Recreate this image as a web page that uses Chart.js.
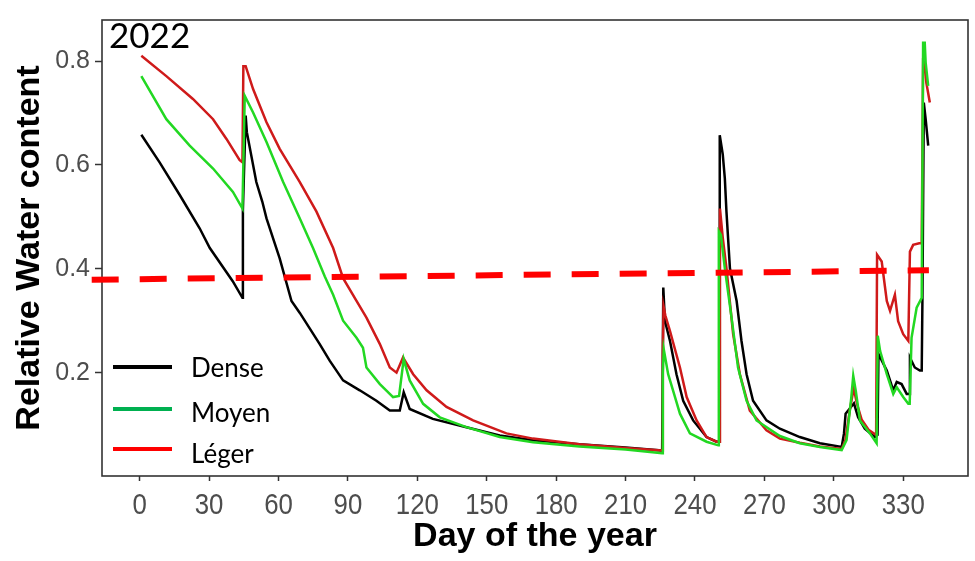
<!DOCTYPE html>
<html>
<head>
<meta charset="utf-8">
<script src="https://cdn.jsdelivr.net/npm/chart.js@4.4.1/dist/chart.umd.min.js"></script>
<style>
  html, body { margin: 0; padding: 0; background: #ffffff; }
  canvas { display: block; }
</style>
</head>
<body>
<canvas id="rwc" width="975" height="561"></canvas>
<script>
// Relative water content per day of year, 2022, for three canopy densities.
const denseDays = [0.7, 8.6, 17.3, 25.9, 30.3, 40.2, 44.4, 44.6, 45.8, 46.3, 50.4, 53, 54.8, 60.5, 65.6, 69.2, 77.8, 82.1, 87.9, 95.1, 102.3, 108.1, 112.4, 114.1, 116.7, 126.7, 141.2, 155.6, 170, 190, 210, 225.8, 226.3, 227, 229.2, 232, 234.9, 239.2, 245, 249.3, 250.4, 250.7, 252, 252.9, 253.6, 255.1, 258, 260.1, 262.3, 265.1, 270.9, 276.7, 285.3, 294, 303.4, 304.4, 305.1, 308.7, 310.5, 313.4, 317.8, 318.9, 319.3, 322.9, 325.7, 327.2, 329.3, 331.5, 332.6, 332.9, 335, 337.2, 338, 338.3, 338.9, 339.7, 340.8];
const denseRwc = [0.658, 0.605, 0.542, 0.478, 0.44, 0.376, 0.344, 0.513, 0.695, 0.663, 0.567, 0.529, 0.497, 0.42, 0.338, 0.315, 0.255, 0.223, 0.185, 0.166, 0.146, 0.127, 0.127, 0.162, 0.13, 0.111, 0.095, 0.079, 0.07, 0.062, 0.056, 0.05, 0.364, 0.3, 0.261, 0.197, 0.146, 0.108, 0.076, 0.067, 0.067, 0.657, 0.62, 0.574, 0.51, 0.401, 0.338, 0.261, 0.197, 0.146, 0.108, 0.092, 0.076, 0.064, 0.057, 0.083, 0.121, 0.141, 0.114, 0.092, 0.076, 0.08, 0.236, 0.204, 0.166, 0.182, 0.178, 0.159, 0.159, 0.229, 0.21, 0.204, 0.204, 0.338, 0.72, 0.688, 0.637];

const moyenDays = [0.7, 11.5, 21.6, 31.7, 40.3, 44.4, 45.4, 49, 54.8, 62, 69.2, 74.9, 80, 83.6, 87.9, 93.7, 96.5, 98, 103.8, 109.5, 112.1, 114.1, 116.7, 122.5, 129.7, 141.2, 155.6, 170, 190, 210, 225.8, 226.1, 226.5, 228.4, 230.5, 233.5, 237.8, 245, 250.1, 250.3, 251.2, 252.9, 255.8, 258.6, 262.3, 266.6, 276.7, 285.3, 294, 303.4, 305.5, 307.5, 308.4, 309.5, 311.3, 315.6, 318.5, 319, 320, 322.9, 325.7, 327.2, 330, 332.2, 332.8, 333.6, 335.8, 338, 338.6, 339.3, 339.7, 340.8];
const moyenRwc = [0.771, 0.688, 0.637, 0.593, 0.548, 0.516, 0.733, 0.701, 0.644, 0.567, 0.497, 0.44, 0.385, 0.35, 0.3, 0.267, 0.248, 0.21, 0.178, 0.153, 0.155, 0.226, 0.185, 0.14, 0.114, 0.095, 0.076, 0.066, 0.058, 0.052, 0.045, 0.2, 0.245, 0.197, 0.166, 0.121, 0.083, 0.067, 0.06, 0.472, 0.465, 0.401, 0.306, 0.21, 0.146, 0.108, 0.078, 0.064, 0.057, 0.051, 0.07, 0.15, 0.194, 0.165, 0.108, 0.083, 0.064, 0.271, 0.242, 0.197, 0.159, 0.172, 0.153, 0.14, 0.14, 0.267, 0.325, 0.344, 0.835, 0.835, 0.797, 0.752];

const legerDays = [0.7, 11.5, 23, 31.7, 37.5, 43.2, 44.4, 44.8, 45.8, 49, 54.8, 60.5, 69.2, 76.4, 83.6, 87.9, 93.7, 98, 103.8, 108.1, 111, 113.8, 118.2, 124, 132.6, 144.1, 158.5, 170, 190, 210, 225.8, 226.1, 226.4, 227.2, 229.2, 233.5, 236.4, 240.7, 245, 249.3, 250.5, 250.8, 252, 253.6, 256.5, 259.4, 263.7, 270.9, 276.7, 285.3, 294, 303.4, 305, 307, 308.6, 310, 312, 315, 318.3, 318.7, 320.7, 322.9, 324.3, 326.4, 327.8, 330, 332.2, 332.9, 334.3, 336.9, 338, 338.6, 339.3, 340, 341.5];
const legerRwc = [0.81, 0.771, 0.727, 0.688, 0.65, 0.609, 0.605, 0.79, 0.79, 0.746, 0.682, 0.631, 0.567, 0.51, 0.44, 0.382, 0.338, 0.306, 0.255, 0.21, 0.2, 0.229, 0.197, 0.166, 0.134, 0.108, 0.083, 0.073, 0.062, 0.055, 0.05, 0.24, 0.328, 0.31, 0.28, 0.21, 0.153, 0.108, 0.076, 0.067, 0.067, 0.516, 0.46, 0.401, 0.274, 0.197, 0.127, 0.089, 0.073, 0.065, 0.058, 0.053, 0.07, 0.13, 0.17, 0.14, 0.11, 0.09, 0.08, 0.427, 0.414, 0.338, 0.319, 0.35, 0.299, 0.274, 0.261, 0.433, 0.446, 0.449, 0.449, 0.8, 0.797, 0.758, 0.72];

// Stress threshold drawn across the panel
const thresholdDays = [-20.75, 341.1];
const thresholdRwc = [0.379, 0.397];

const seriesNames = ['Dense', 'Moyen', 'Léger'];
const xTicks = [0, 30, 60, 90, 120, 150, 180, 210, 240, 270, 300, 330];
const yTicks = [0.2, 0.4, 0.6, 0.8];
const yearLabel = '2022';

const toPoints = (days, vals) => days.map((d, i) => ({ x: d, y: vals[i] }));

const lineColors = { Dense: '#000000', Moyen: '#22d822', 'Léger': '#cf1a1a' };
const keyColors = { Dense: '#000000', Moyen: '#00b050', 'Léger': '#ff0000' };

// Panel frame, drawn beneath the series
const panelFrame = {
  id: 'panelFrame',
  beforeDatasetsDraw(chart) {
    const { ctx, chartArea: a } = chart;
    ctx.save();
    ctx.strokeStyle = '#333333';
    ctx.lineWidth = 1.6;
    ctx.strokeRect(a.left, a.top, a.right - a.left, a.bottom - a.top);
    ctx.restore();
  }
};

// Day labels under the x axis, in a condensed face
const dayLabels = {
  id: 'dayLabels',
  afterDraw(chart) {
    const { ctx } = chart;
    const sx = chart.scales.x;
    ctx.save();
    ctx.fillStyle = '#4d4d4d';
    ctx.font = '30px "Liberation Sans", Arial, sans-serif';
    ctx.textAlign = 'center';
    ctx.textBaseline = 'alphabetic';
    sx.ticks.forEach(t => {
      const px = sx.getPixelForValue(t.value);
      ctx.save();
      ctx.translate(px, 514);
      ctx.scale(0.86, 1);
      ctx.fillText(String(t.value), 0, 0);
      ctx.restore();
    });
    ctx.restore();
  }
};

// Year tag and key inside the panel
const panelNotes = {
  id: 'panelNotes',
  afterDraw(chart) {
    const { ctx } = chart;
    ctx.save();
    ctx.fillStyle = '#000000';
    ctx.textBaseline = 'alphabetic';
    ctx.textAlign = 'left';
    ctx.font = '35px Lato, "Open Sans", sans-serif';
    ctx.fillText(yearLabel, 109, 48);

    const rows = [367, 409, 449];
    const baselines = [376.5, 422, 463];
    ctx.font = '26px Lato, "Open Sans", sans-serif';
    seriesNames.forEach((name, i) => {
      ctx.strokeStyle = keyColors[name];
      ctx.lineWidth = 4;
      ctx.beginPath();
      ctx.moveTo(113, rows[i]);
      ctx.lineTo(172, rows[i]);
      ctx.stroke();
      ctx.fillText(name, 191, baselines[i]);
    });
    ctx.restore();
  }
};

const lineSet = (name, days, vals) => ({
  label: name,
  data: toPoints(days, vals),
  borderColor: lineColors[name],
  backgroundColor: lineColors[name],
  borderWidth: 2.5,
  pointRadius: 0,
  tension: 0,
  fill: false
});

new Chart(document.getElementById('rwc'), {
  type: 'line',
  data: {
    datasets: [
      {
        label: 'threshold',
        data: toPoints(thresholdDays, thresholdRwc),
        borderColor: '#ff0000',
        borderWidth: 6,
        borderDash: [27, 21],
        borderCapStyle: 'butt',
        pointRadius: 0,
        tension: 0,
        fill: false,
        clip: false
      },
      lineSet('Moyen', moyenDays, moyenRwc),
      lineSet('Léger', legerDays, legerRwc),
      lineSet('Dense', denseDays, denseRwc)
    ]
  },
  options: {
    responsive: false,
    animation: false,
    devicePixelRatio: 1,
    layout: { padding: { top: 17, right: 7, left: 0, bottom: 0 } },
    plugins: { legend: { display: false }, tooltip: { enabled: false } },
    scales: {
      x: {
        type: 'linear',
        min: -16.3,
        max: 358,
        afterBuildTicks: s => { s.ticks = xTicks.map(v => ({ value: v })); },
        afterFit: s => { s.height = 85; },
        border: { display: false },
        grid: { display: true, drawOnChartArea: false, drawTicks: true, tickLength: 5, tickWidth: 1.5, tickColor: '#333333' },
        ticks: { display: false, autoSkip: false, maxRotation: 0 },
        title: {
          display: true, text: 'Day of the year', color: '#000000',
          font: { family: '"Liberation Sans", Arial, sans-serif', size: 34, weight: 'bold' },
          padding: { top: 0, bottom: 4 }
        }
      },
      y: {
        type: 'linear',
        min: 0.001,
        max: 0.879,
        afterBuildTicks: s => { s.ticks = yTicks.map(v => ({ value: v })); },
        afterFit: s => { s.width = 102; },
        border: { display: false },
        grid: { display: true, drawOnChartArea: false, drawTicks: true, tickLength: 7, tickWidth: 1.5, tickColor: '#333333' },
        ticks: {
          padding: 5, color: '#4d4d4d',
          font: { family: '"Liberation Sans", Arial, sans-serif', size: 25 },
          callback: v => v.toFixed(1)
        },
        title: {
          display: true, text: 'Relative Water content', color: '#000000',
          font: { family: '"Liberation Sans", Arial, sans-serif', size: 34, weight: 'bold' },
          padding: { top: 9, bottom: 0 }
        }
      }
    }
  },
  plugins: [panelFrame, dayLabels, panelNotes]
});
</script>
</body>
</html>
